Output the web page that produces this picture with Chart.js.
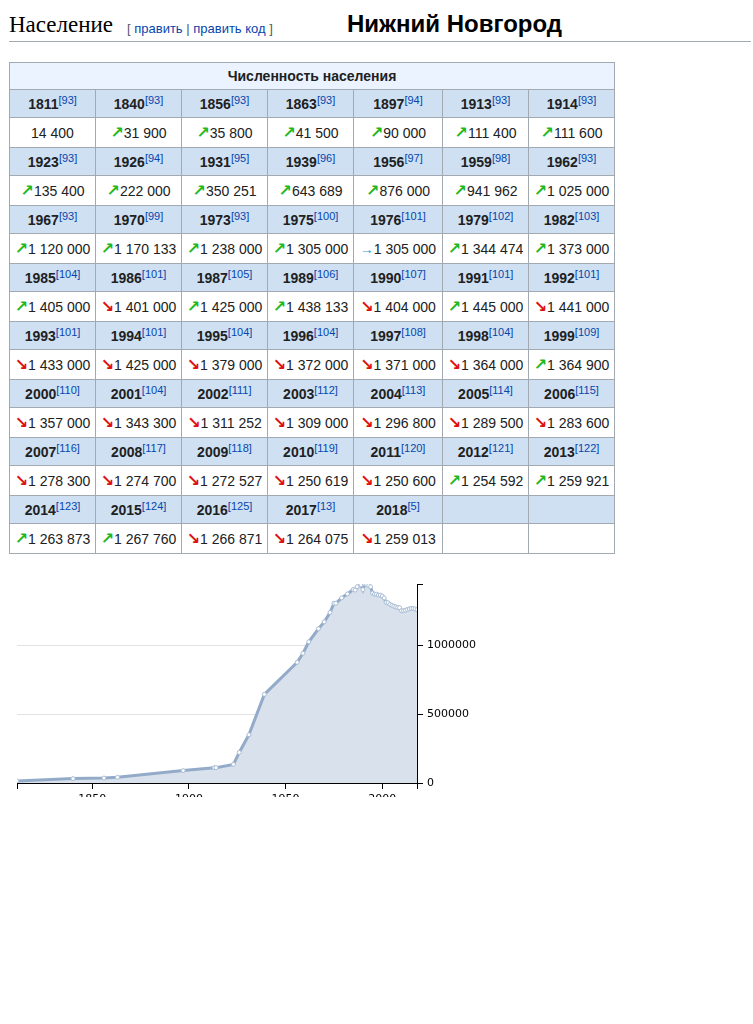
<!DOCTYPE html>
<html lang="ru">
<head>
<meta charset="utf-8">
<title>Нижний Новгород — население</title>
<script src="https://cdn.jsdelivr.net/npm/chart.js@4.4.1/dist/chart.umd.min.js"></script>
<style>
    body { margin: 0; background: #fff; font-family: "Liberation Sans", Arial, sans-serif; color: #202122; }
    #heading { position: absolute; left: 9px; top: 12px; font-family: "Liberation Serif", serif; font-size: 23px; color: #000; }
    #edit { position: absolute; left: 127px; top: 21px; font-size: 13px; color: #54595d; }
    #edit a { color: #0645ad; text-decoration: none; }
    #city { position: absolute; left: 347px; top: 10px; font-size: 24px; font-weight: bold; color: #000; }
    #rule { position: absolute; left: 9px; top: 41px; width: 742px; height: 1px; background: #a2a9b1; }
    table { position: absolute; left: 9px; top: 62px; border-collapse: collapse; font-size: 14px; table-layout: fixed; }
    td, th { border: 1px solid #a2a9b1; text-align: center; padding: 0; white-space: nowrap; }
    th.title { background: #eaf3ff; height: 26px; }
    th.year { background: #cee0f2; height: 27px; }
    td { height: 29px; background: #fff; }
    sup { font-size: 11px; font-weight: normal; color: #0645ad; vertical-align: 5px; line-height: 0; }
    .up, .down { font-family: "DejaVu Sans", sans-serif; font-weight: bold; font-size: 16px; line-height: 0; }
    .up { color: #1fb81f; }
    .down { color: #e01010; }
    .same { color: #2a9ae0; font-size: 14px; }
    #clip { position: absolute; left: 0; top: 571px; width: 480px; height: 226px; overflow: hidden; }
    #box { width: 477px; height: 250px; }
</style>
</head>
<body>
<div id="heading">Население</div>
<div id="edit">[ <a>править</a> | <a>править код</a> ]</div>
<div id="city">Нижний Новгород</div>
<div id="rule"></div>
<table id="pop"></table>
<div id="clip"><div id="box"><canvas id="chart" width="477" height="250"></canvas></div></div>

<script>
const years = [1811, 1840, 1856, 1863, 1897, 1913, 1914, 1923, 1926, 1931, 1939, 1956, 1959, 1962,
    1967, 1970, 1973, 1975, 1976, 1979, 1982, 1985, 1986, 1987, 1989, 1990, 1991, 1992,
    1993, 1994, 1995, 1996, 1997, 1998, 1999, 2000, 2001, 2002, 2003, 2004, 2005, 2006,
    2007, 2008, 2009, 2010, 2011, 2012, 2013, 2014, 2015, 2016, 2017, 2018];
const population = [14400, 31900, 35800, 41500, 90000, 111400, 111600, 135400, 222000, 350251, 643689, 876000, 941962, 1025000,
    1120000, 1170133, 1238000, 1305000, 1305000, 1344474, 1373000, 1405000, 1401000, 1425000, 1438133, 1404000, 1445000, 1441000,
    1433000, 1425000, 1379000, 1372000, 1371000, 1364000, 1364900, 1357000, 1343300, 1311252, 1309000, 1296800, 1289500, 1283600,
    1278300, 1274700, 1272527, 1250619, 1250600, 1254592, 1259921, 1263873, 1267760, 1266871, 1264075, 1259013];
const refs = [93, 93, 93, 93, 94, 93, 93, 93, 94, 95, 96, 97, 98, 93,
    93, 99, 93, 100, 101, 102, 103, 104, 101, 105, 106, 107, 101, 101,
    101, 101, 104, 104, 108, 104, 109, 110, 104, 111, 112, 113, 114, 115,
    116, 117, 118, 119, 120, 121, 122, 123, 124, 125, 13, 5];
const xTicks = [1850, 1900, 1950, 2000];
const yTicks = [0, 500000, 1000000];

const perRow = 7;
const colWidths = [86, 86, 86, 86, 89, 86, 86];

function fmt(n) {
    return String(n).replace(/\B(?=(\d{3})+(?!\d))/g, ' ');
}

function arrow(i) {
    if (i === 0) return '';
    const d = population[i] - population[i - 1];
    if (d > 0) return '<span class="up">&#x2197;</span>';
    if (d < 0) return '<span class="down">&#x2198;</span>';
    return '<span class="same">&#x2192;</span>';
}

// build the table
let html = '<colgroup>' + colWidths.map(w => `<col style="width:${w}px">`).join('') + '</colgroup>';
html += `<tr><th class="title" colspan="${perRow}">Численность населения</th></tr>`;
for (let r = 0; r < years.length; r += perRow) {
    let head = '<tr>', vals = '<tr>';
    for (let c = 0; c < perRow; c++) {
        const i = r + c;
        if (i < years.length) {
            head += `<th class="year">${years[i]}<sup>[${refs[i]}]</sup></th>`;
            vals += `<td>${arrow(i)}${fmt(population[i])}</td>`;
        } else {
            head += '<th class="year"></th>';
            vals += '<td></td>';
        }
    }
    html += head + '</tr>' + vals + '</tr>';
}
document.getElementById('pop').innerHTML = html;

// chart
const yMax = Math.max(...population);
const tickFont = { family: 'DejaVu Sans', size: 11 };

new Chart(document.getElementById('chart'), {
    type: 'line',
    data: {
        datasets: [{
            data: years.map((y, i) => ({ x: y, y: population[i] })),
            borderColor: '#93abc9',
            borderWidth: 3,
            backgroundColor: '#d9e2ec',
            fill: 'origin',
            tension: 0,
            pointRadius: 2,
            pointBorderWidth: 1,
            pointBackgroundColor: '#fff',
            pointBorderColor: '#a9bdd6'
        }]
    },
    options: {
        responsive: false,
        animation: false,
        layout: { padding: { top: 13, left: 17, right: 0, bottom: 0 } },
        plugins: { legend: { display: false }, tooltip: { enabled: false } },
        scales: {
            x: {
                type: 'linear',
                min: years[0],
                max: years[years.length - 1],
                afterBuildTicks: s => { s.ticks = [years[0], ...xTicks, years[years.length - 1]].map(v => ({ value: v })); },
                afterFit: s => { s.height = 38; },
                border: { display: true, color: '#000', width: 1 },
                grid: { drawOnChartArea: false, tickColor: '#000', tickLength: 6 },
                ticks: {
                    color: '#000', font: tickFont, padding: 4, maxRotation: 0, autoSkip: false,
                    callback: v => xTicks.includes(v) ? String(v) : ''
                }
            },
            y: {
                position: 'right',
                min: 0,
                max: yMax,
                afterBuildTicks: s => { s.ticks = [...yTicks, yMax].map(v => ({ value: v })); },
                afterFit: s => { s.width = 60; },
                border: { display: true, color: '#000', width: 1 },
                grid: {
                    color: c => (c.tick && c.tick.value > 0 && yTicks.includes(c.tick.value)) ? '#e3e3e3' : 'rgba(0,0,0,0)',
                    tickColor: '#000',
                    tickLength: 6
                },
                ticks: {
                    color: '#000', font: tickFont, padding: 4, autoSkip: false,
                    callback: v => yTicks.includes(v) ? String(v) : ''
                }
            }
        }
    }
});
</script>
</body>
</html>
